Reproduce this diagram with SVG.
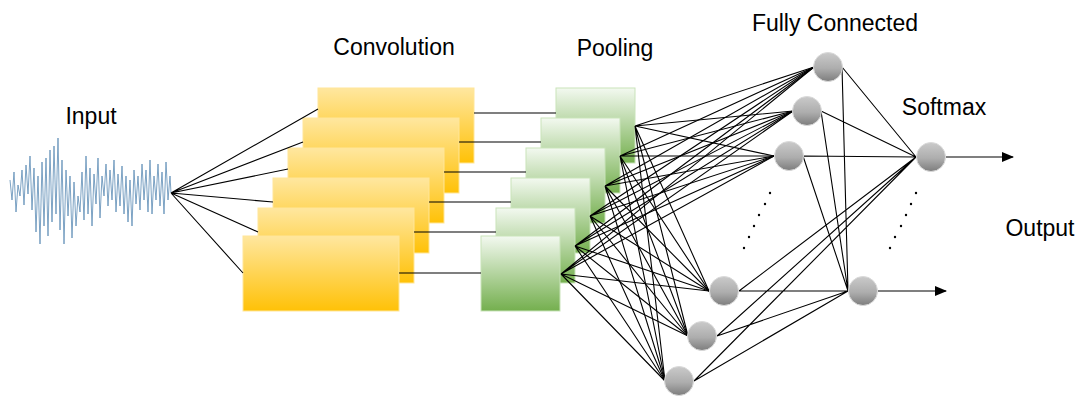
<svg xmlns="http://www.w3.org/2000/svg" width="1079" height="397" viewBox="0 0 1079 397">
<defs>
<linearGradient id="gY" x1="0" y1="0" x2="0" y2="1"><stop offset="0" stop-color="#FFE79F"/><stop offset="1" stop-color="#FFC107"/></linearGradient>
<linearGradient id="gG" x1="0" y1="0" x2="0" y2="1"><stop offset="0" stop-color="#F3F9F0"/><stop offset="1" stop-color="#74AF4E"/></linearGradient>
<linearGradient id="gC" x1="0" y1="0" x2="0" y2="1"><stop offset="0" stop-color="#CACACA"/><stop offset="0.55" stop-color="#ADADAD"/><stop offset="1" stop-color="#7D7D7D"/></linearGradient>
<marker id="arr" viewBox="0 0 12 10" refX="11" refY="5" markerWidth="12" markerHeight="10" markerUnits="userSpaceOnUse" orient="auto"><path d="M0,0 L12,5 L0,10 Z" fill="#000"/></marker>
</defs>
<style>
.conv{fill:url(#gY);stroke:#FFE699;stroke-width:1}
.pool{fill:url(#gG);stroke:#C9E3BA;stroke-width:1}
.neu{fill:url(#gC);stroke:#DADADA;stroke-width:1}
.ln{stroke:#000;stroke-width:1.1;fill:none}
.lbl{font-family:"Liberation Sans",Arial,sans-serif;font-size:23px;fill:#000;text-anchor:middle}
.dot{fill:#000}
</style>
<g id="input">
<polyline fill="none" stroke="#5E8DB6" stroke-width="0.9" stroke-opacity="0.9" points="10,180 12,200 14,172 16,212 18,185 20,196 22,170 24,205 26,165 28,194 30,156 32,210 34,168 36,232 38,176 40,244 42,162 44,226 46,158 48,236 50,150 52,222 54,146 56,214 58,138 60,230 62,160 64,244 66,170 68,216 70,176 72,238 74,182 76,226 78,196 80,212 82,172 84,220 86,156 88,214 90,168 92,226 94,174 96,204 98,158 100,218 102,176 104,196 106,164 108,206 110,170 112,200 114,160 116,212 118,174 120,206 122,166 124,214 126,176 128,222 130,180 132,226 134,170 136,204 138,176 140,210 142,164 144,200 146,170 148,212 150,160 152,214 154,176 156,200 158,164 160,206 162,172 164,214 166,162 168,200 170,176 171,193"/>
<text class="lbl" x="91" y="124">Input</text>
</g>
<g id="convolution">
<rect id="conv1" class="conv" x="318" y="88" width="156" height="75"/>
<rect id="conv2" class="conv" x="303" y="118" width="156" height="75"/>
<rect id="conv3" class="conv" x="288" y="148" width="156" height="75"/>
<rect id="conv4" class="conv" x="273" y="178" width="156" height="75"/>
<rect id="conv5" class="conv" x="258" y="208" width="156" height="75"/>
<rect id="conv6" class="conv" x="243" y="236" width="156" height="75"/>
<text class="lbl" x="394" y="55">Convolution</text>
</g>
<g id="pooling">
<rect id="pool1" class="pool" x="556" y="88" width="79" height="75"/>
<rect id="pool2" class="pool" x="541" y="118" width="79" height="75"/>
<rect id="pool3" class="pool" x="526" y="148" width="79" height="75"/>
<rect id="pool4" class="pool" x="511" y="178" width="79" height="75"/>
<rect id="pool5" class="pool" x="496" y="208" width="79" height="75"/>
<rect id="pool6" class="pool" x="481" y="236" width="79" height="75"/>
<text class="lbl" x="615" y="56">Pooling</text>
</g>
<g id="connectors" class="ln">
<path d="M171,193 L318,109 M171,193 L303,142 M171,193 L288,169 M171,193 L273,202 M171,193 L258,232 M171,193 L243,273"/>
<path d="M474,113 H556 M459,142 H541 M444,172 H526 M429,202 H511 M414,232 H496 M399,273 H481"/>
<path d="M635,126 L814,67 M635,126 L793,111 M635,126 L774,156 M635,126 L709,291 M635,126 L688,336 M635,126 L665,381"/>
<path d="M620,156 L814,67 M620,156 L793,111 M620,156 L774,156 M620,156 L709,291 M620,156 L688,336 M620,156 L665,381"/>
<path d="M605,186 L814,67 M605,186 L793,111 M605,186 L774,156 M605,186 L709,291 M605,186 L688,336 M605,186 L665,381"/>
<path d="M590,216 L814,67 M590,216 L793,111 M590,216 L774,156 M590,216 L709,291 M590,216 L688,336 M590,216 L665,381"/>
<path d="M575,246 L814,67 M575,246 L793,111 M575,246 L774,156 M575,246 L709,291 M575,246 L688,336 M575,246 L665,381"/>
<path d="M561,274 L814,67 M561,274 L793,111 M561,274 L774,156 M561,274 L709,291 M561,274 L688,336 M561,274 L665,381"/>
<path d="M842,67 L916,157 M842,67 L848,291 M821,111 L916,157 M821,111 L848,291 M803,156 L916,157 M803,156 L848,291 M739,291 L916,157 M739,291 L848,291 M717,336 L916,157 M717,336 L848,291 M694,381 L916,157 M694,381 L848,291"/>
<path d="M946,157 L1013,157" marker-end="url(#arr)"/>
<path d="M878,291 L946,291" marker-end="url(#arr)"/>
</g>
<g id="fully-connected">
<circle id="fc1" class="neu" cx="828" cy="67" r="14.5"/>
<circle id="fc2" class="neu" cx="807" cy="111" r="14.5"/>
<circle id="fc3" class="neu" cx="789" cy="156" r="14.5"/>
<circle id="fc4" class="neu" cx="724" cy="291" r="14.5"/>
<circle id="fc5" class="neu" cx="702" cy="336" r="14.5"/>
<circle id="fc6" class="neu" cx="679" cy="381" r="14.5"/>
<g class="dot"><circle cx="770" cy="193" r="1.2"/><circle cx="765" cy="204" r="1.2"/><circle cx="759" cy="215" r="1.2"/><circle cx="754" cy="226" r="1.2"/><circle cx="749" cy="237" r="1.2"/><circle cx="744" cy="248" r="1.2"/></g>
<text class="lbl" x="835" y="31">Fully Connected</text>
</g>
<g id="softmax">
<circle id="sm1" class="neu" cx="931" cy="157" r="14.5"/>
<circle id="sm2" class="neu" cx="863" cy="291" r="14.5"/>
<g class="dot"><circle cx="916" cy="193" r="1.2"/><circle cx="911" cy="204" r="1.2"/><circle cx="906" cy="215" r="1.2"/><circle cx="901" cy="226" r="1.2"/><circle cx="895" cy="237" r="1.2"/><circle cx="890" cy="248" r="1.2"/></g>
<text class="lbl" x="944" y="115">Softmax</text>
</g>
<g id="output">
<text class="lbl" x="1040" y="236">Output</text>
</g>
</svg>
